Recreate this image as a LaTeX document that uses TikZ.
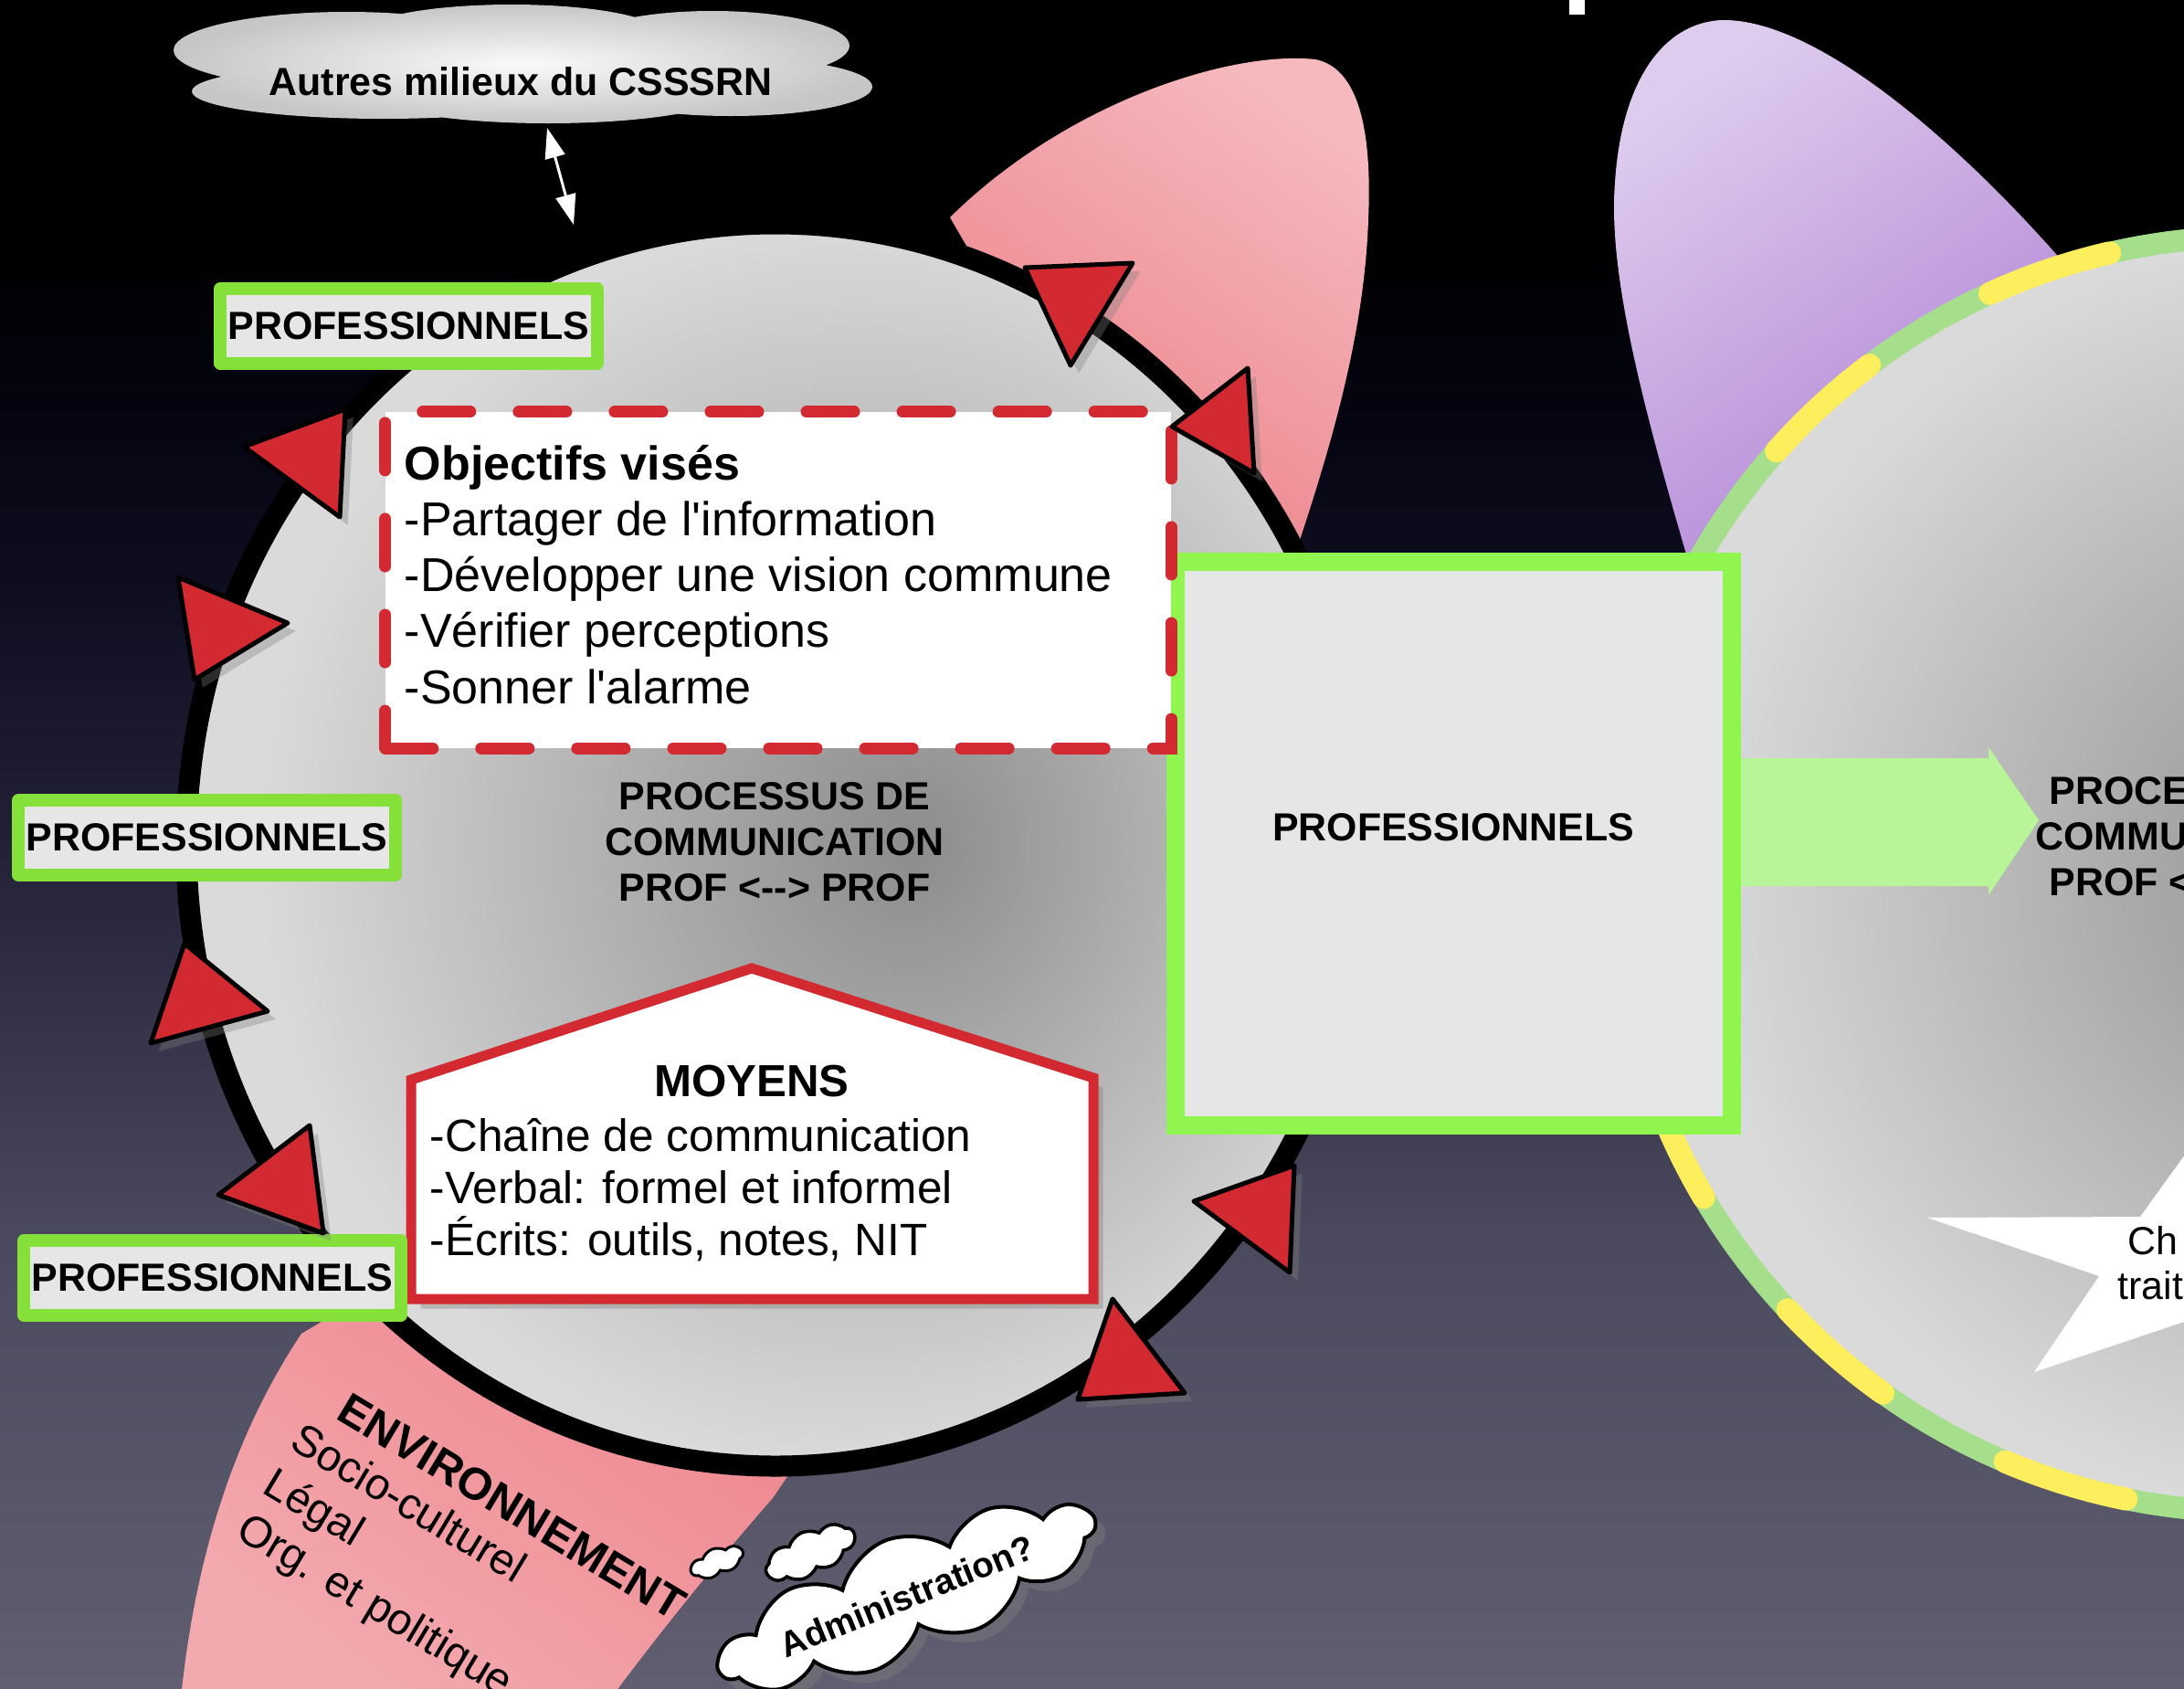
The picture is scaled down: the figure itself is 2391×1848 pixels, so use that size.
\documentclass[tikz,border=0pt]{standalone}
\usepackage{fontspec}
\newfontfamily\arialf{Liberation Sans}
\usetikzlibrary{shapes.geometric,shapes.symbols,shadows,arrows.meta}
\definecolor{bgbot}{RGB}{96,94,112}
\definecolor{bgmA}{RGB}{76,74,94}
\definecolor{bgmB}{RGB}{35,33,56}
\definecolor{bgmC}{RGB}{16,15,34}
\definecolor{bgmD}{RGB}{4,4,16}
\definecolor{ringin}{RGB}{140,140,140}
\definecolor{ringout}{RGB}{218,218,218}
\definecolor{cloudin}{RGB}{250,250,250}
\definecolor{cloudout}{RGB}{198,198,198}
\definecolor{progreen}{RGB}{134,224,58}
\definecolor{biggreen}{RGB}{145,245,80}
\definecolor{arrowgreen}{RGB}{183,245,152}
\definecolor{redc}{RGB}{210,42,48}
\definecolor{pinkhi}{RGB}{245,185,190}
\definecolor{pinklo}{RGB}{237,128,136}
\definecolor{pinkbl}{RGB}{243,170,175}
\definecolor{purphi}{RGB}{222,204,238}
\definecolor{purplo}{RGB}{176,130,212}
\definecolor{ringgreen}{RGB}{166,223,139}
\definecolor{ringyellow}{RGB}{253,238,94}
\definecolor{boxgray}{RGB}{230,230,230}
\pgfdeclareverticalshading{bgshade}{100bp}{color(0bp)=(bgbot); color(25bp)=(bgbot); color(38bp)=(bgmA); color(50bp)=(bgmB); color(57bp)=(bgmC); color(63bp)=(bgmD); color(68bp)=(black); color(100bp)=(black)}
\pgfdeclareradialshading{ringshade}{\pgfpoint{6bp}{0bp}}{color(0bp)=(ringin); color(25bp)=(ringout); color(50bp)=(ringout)}
\pgfdeclareradialshading{cloudshade}{\pgfpoint{0bp}{0bp}}{color(0bp)=(cloudin); color(25bp)=(cloudout); color(50bp)=(cloudout)}
\tikzset{
  lbl/.style={font=\arialf\bfseries\fontsize{12.2}{14.2}\selectfont, inner sep=0},
  probox/.style={draw=progreen, fill=boxgray, line width=0.14cm, line join=round,
    minimum width=4.12cm, minimum height=0.82cm, inner sep=0,
    font=\arialf\bfseries\fontsize{12.2}{14.2}\selectfont},
  tri/.style={fill=redc, draw=black, line width=0.05cm, line join=round,
    drop shadow={opacity=0.35, shadow xshift=2.5pt, shadow yshift=-2.5pt}},
  bodytext/.style={font=\arialf\fontsize{14.8}{17.4}\selectfont, align=left, inner sep=0},
  puff/.style={cloud, cloud ignores aspect, draw=black, fill=white, inner sep=0}
}
\begin{document}
\begin{tikzpicture}[x=0.01cm, y=-0.01cm]
\useasboundingbox (0,0) rectangle (2391,1848);
\clip (0,0) rectangle (2391,1848);
% background
\shade[shading=bgshade] (0,0) rectangle (2391,1848);
\fill[white] (1718,0) rectangle (1735,16);
% petals
\shade[top color=pinkhi, bottom color=pinklo, shading angle=-35]
  (1040,238) .. controls (1170,110) and (1350,55) .. (1440,65)
  .. controls (1490,75) and (1502,150) .. (1498,240)
  .. controls (1494,360) and (1460,480) .. (1420,600) -- (1250,600) -- cycle;
\shade[top color=pinklo, bottom color=pinkbl, shading angle=-35]
  (198,1860) .. controls (212,1720) and (250,1580) .. (330,1460)
  -- (600,1300) -- (900,1560) -- (846,1640)
  .. controls (780,1715) and (720,1790) .. (668,1860) -- cycle;
\shade[top color=purphi, bottom color=purplo, shading angle=35]
  (1850,620) .. controls (1800,450) and (1760,300) .. (1768,200)
  .. controls (1775,90) and (1820,25) .. (1885,22)
  .. controls (1990,20) and (2150,160) .. (2270,300) -- (2200,600) -- cycle;
% right circle
\shade[shading=ringshade] (2467,957) circle (698);
\draw[ringgreen, line width=0.24cm] (2467,957) circle (698);
\draw[ringyellow, line width=0.25cm, line cap=round, dash pattern=on 1.39cm off 1.534cm, dash phase=2.26cm] (2467,957) circle (698);
% star
\fill[white] (2110,1333) -- (2343,1332) -- (2400,1253) -- (2400,1444) -- (2227,1502) -- (2298,1397) -- cycle;
\node[anchor=base west, inner sep=0, font=\arialf\fontsize{12.2}{14}\selectfont] (stA) at (2329,1373) {Ch};
\node[anchor=base west, inner sep=0, font=\arialf\fontsize{12.2}{14}\selectfont] (stB) at (2318,1422) {trait};
\node[lbl, align=center, anchor=base] (proc2) at (2414,980) {PROCESSUS DE\\COMMUNICATION\\PROF <-{}-> PROF};
% main circle
\shade[shading=ringshade] (849,925) ellipse (645 and 680);
\draw[line width=0.23cm] (849,925) ellipse (645 and 680);
% green arrow
\fill[arrowgreen] (1900,830) -- (2177,830) -- (2177,818) -- (2232,898) -- (2177,980) -- (2177,970) -- (1900,970) -- cycle;
% big box
\node[draw=biggreen, fill=boxgray, line width=0.2cm, minimum width=6.09cm, minimum height=6.17cm, inner sep=0] (pbig) at (1591.5,923.5) {};
\node[lbl] (pbigt) at (1591,906) {PROFESSIONNELS};
% objectifs box
\node[draw=redc, fill=white, line width=0.13cm, line cap=round, dash pattern=on 0.52cm off 0.53cm, minimum width=8.6cm, minimum height=3.68cm, inner sep=0] (objbox) at (852,635) {};
\node[bodytext, anchor=base west] (objt) at (442,770) {\textbf{Objectifs visés}\\-Partager de l'information\\-Développer une vision commune\\-Vérifier perceptions\\-Sonner l'alarme};
% processus
\node[lbl, align=center, anchor=base] (proc) at (848,986) {PROCESSUS DE\\COMMUNICATION\\PROF <-{}-> PROF};
% moyens
\filldraw[fill=white, draw=redc, line width=0.11cm, drop shadow={opacity=0.4, shadow xshift=3pt, shadow yshift=-3pt}]
  (450,1182) -- (823,1060) -- (1197,1180) -- (1197,1422) -- (450,1422) -- cycle;
\node[anchor=base, inner sep=0, font=\arialf\bfseries\fontsize{14}{16}\selectfont] (moyT) at (823,1200) {MOYENS};
\node[anchor=base west, inner sep=0, align=left, font=\arialf\fontsize{14.1}{16.2}\selectfont] (moyL) at (470,1374) {-Chaîne de communication\\-Verbal: formel et informel\\-Écrits: outils, notes, NIT};
% professionnels boxes
\node[probox] (p1) at (447.5,357) {PROFESSIONNELS};
\node[probox] (p2) at (226.5,917) {PROFESSIONNELS};
\node[probox] (p3) at (232.5,1399) {PROFESSIONNELS};
% triangles on the ring
\path[tri] (1122,293) -- (1240,288) -- (1172,400) -- cycle;
\path[tri] (1366,403) -- (1373,518) -- (1283,467) -- cycle;
\path[tri] (267,489) -- (378,448) -- (372,566) -- cycle;
\path[tri] (195,632) -- (315,682) -- (213,744) -- cycle;
\path[tri] (202,1033) -- (293,1107) -- (165,1142) -- cycle;
\path[tri] (239,1308) -- (339,1232) -- (354,1350) -- cycle;
\path[tri] (1417,1276) -- (1412,1393) -- (1307,1315) -- cycle;
\path[tri] (1218,1422) -- (1297,1525) -- (1180,1532) -- cycle;
% environnement
\node[anchor=base west, rotate=-31, inner sep=0, font=\arialf\bfseries\fontsize{14}{16}\selectfont] (envT) at (366,1552) {ENVIRONNEMENT};
\node[anchor=base west, rotate=-31, inner sep=0, align=left, font=\arialf\fontsize{13.6}{16.2}\selectfont] (envL) at (256,1682) {Socio-culturel\\Légal\\Org. et politique};
% administration thought
\node[puff, line width=0.03cm, minimum width=0.6cm, minimum height=0.3cm, cloud puffs=7, cloud puff arc=100, rotate=22] (puffA) at (785,1710) {};
\node[puff, line width=0.035cm, minimum width=1.05cm, minimum height=0.48cm, cloud puffs=9, cloud puff arc=100, rotate=25] (puffB) at (887,1700) {};
\node[puff, line width=0.04cm, cloud puffs=11, cloud puff arc=110, minimum width=4.4cm, minimum height=1.3cm, rotate=22,
  drop shadow={opacity=0.4, shadow xshift=3pt, shadow yshift=-3pt},
  font=\arialf\bfseries\fontsize{11}{12}\selectfont] (admin) at (993,1747) {Administration?};
% top cloud
\shade[shading=cloudshade] (380,55) ellipse (190 and 42) (420,100) ellipse (210 and 30)
  (560,35) ellipse (160 and 30) (780,50) ellipse (150 and 38) (800,95) ellipse (155 and 32)
  (600,100) ellipse (200 and 35) (570,72) ellipse (300 and 45);
\node[lbl, anchor=base] (cloudtxt) at (570,104) {Autres milieux du CSSSRN};
\coordinate (arA) at (599,140);
\coordinate (arB) at (628,246);
\draw[white, line width=0.03cm, {Triangle[length=0.33cm,width=0.22cm]}-{Triangle[length=0.33cm,width=0.22cm]}] (arA) -- (arB);
\end{tikzpicture}
\end{document}
